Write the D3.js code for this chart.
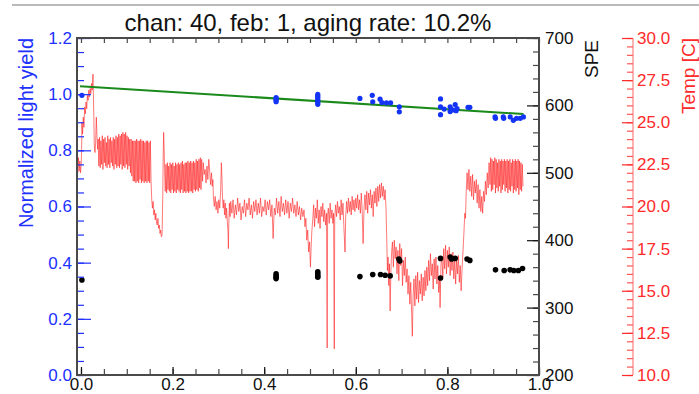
<!DOCTYPE html>
<html><head><meta charset="utf-8">
<script src="https://cdn.jsdelivr.net/npm/d3@7"></script>
<style>body{margin:0;background:#fff;} svg{display:block;font-family:"Liberation Sans",Arial,Helvetica,sans-serif;}</style>
</head><body><svg id="c" width="699" height="394"></svg>
<script>
// ---------- data ----------
const titleText = "chan: 40, feb: 1, aging rate: 10.2%";
const xTicks = [0, 0.2, 0.4, 0.6, 0.8, 1.0];
const lyTicks = [0, 0.2, 0.4, 0.6, 0.8, 1.0, 1.2];
const speTicks = [200, 300, 400, 500, 600, 700];
const tempTicks = [10, 12.5, 15, 17.5, 20, 22.5, 25, 27.5, 30];

// normalized light yield points (blue)
const lyX = [0.002, 0.426, 0.426, 0.426, 0.426, 0.517, 0.517, 0.517, 0.517, 0.517, 0.517, 0.517,
  0.609, 0.636, 0.637, 0.653, 0.657, 0.667, 0.676, 0.695, 0.695,
  0.785, 0.785, 0.785, 0.793, 0.806, 0.806, 0.811, 0.817, 0.819, 0.821, 0.845, 0.849,
  0.904, 0.905, 0.922, 0.923, 0.937, 0.944, 0.951, 0.959, 0.966];
const lyY = [0.996, 0.988, 0.983, 0.978, 0.973, 0.999, 0.993, 0.987, 0.981, 0.975, 0.969, 0.964,
  0.985, 0.996, 0.973, 0.982, 0.970, 0.969, 0.969, 0.955, 0.937,
  0.983, 0.955, 0.927, 0.947, 0.955, 0.938, 0.944, 0.963, 0.941, 0.949, 0.953, 0.953,
  0.919, 0.914, 0.919, 0.914, 0.919, 0.907, 0.914, 0.914, 0.919];

// SPE points (black)
const speX = [0.002, 0.426, 0.426, 0.426, 0.426, 0.517, 0.517, 0.517, 0.517,
  0.609, 0.637, 0.654, 0.664, 0.675, 0.694, 0.696,
  0.785, 0.785, 0.806, 0.809, 0.817, 0.843, 0.849,
  0.905, 0.924, 0.937, 0.945, 0.955, 0.964];
const speY = [341, 350, 347, 345, 343, 353, 350, 347, 345,
  346, 349, 349, 348, 347, 372, 369,
  373, 344, 375, 372, 373, 372, 370,
  356, 355, 356, 355, 355, 358];

// linear fit (green)
const fitX = [-0.002, 0.966];
const fitIntercept = 1.028;
const fitSlope = -0.102;

// temperature trace (red): [time, temp C]
const tempData = [
[-0.0087,22.6],[-0.007,22.0],[-0.0055,22.9],[-0.004,22.1],[-0.0025,22.7],[-0.001,22.0],[0.0005,22.5],[0.0015,23.6],
[0.002,25.0],[0.0035,24.3],[0.005,25.3],[0.0065,24.7],[0.008,25.9],[0.0095,25.5],[0.011,26.2],[0.0125,25.8],
[0.014,26.6],[0.0155,26.3],[0.017,26.9],[0.0185,26.5],[0.020,27.0],[0.0215,26.7],[0.023,27.3],[0.0245,26.9],
[0.0262,27.86],[0.0272,26.5],[0.0282,25.2],[0.029,23.6],[0.0305,23.2],[0.032,23.8],[0.0335,25.3],[0.035,24.2],
[0.0362,23.4],[0.0375,24.0],[0.039,22.4],
[0.0405,24.1],[0.042,22.3],[0.0435,23.9],[0.045,22.5],[0.0465,24.2],[0.048,22.2],[0.0495,24.0],[0.051,22.6],
[0.0525,24.1],[0.054,22.4],[0.0555,23.8],[0.057,22.3],[0.0585,24.2],[0.060,22.5],[0.0615,24.0],[0.063,22.3],
[0.0645,24.1],[0.066,22.6],[0.0675,23.9],[0.069,22.4],[0.0705,24.1],[0.072,22.2],[0.0735,24.0],[0.075,22.5],
[0.0765,24.2],[0.078,22.3],[0.0795,24.1],[0.081,22.4],[0.0825,24.3],[0.084,22.3],[0.0855,24.2],[0.087,22.5],
[0.0885,24.3],[0.090,22.2],[0.0915,24.4],[0.093,22.4],[0.0945,24.3],[0.096,22.3],[0.0975,24.4],[0.099,22.5],
[0.1005,24.2],[0.102,22.2],[0.1035,24.1],[0.105,22.4],[0.1065,24.0],[0.108,22.0],[0.1095,24.0],[0.111,21.8],
[0.1125,23.9],[0.114,21.5],[0.1155,23.9],[0.117,21.5],[0.1185,23.9],[0.120,21.4],[0.1215,24.0],[0.123,21.5],
[0.1245,23.9],[0.126,21.4],[0.1275,23.9],[0.129,21.6],[0.1305,24.0],[0.132,21.4],[0.1335,23.9],[0.135,21.5],
[0.1365,23.9],[0.138,21.4],[0.1395,23.8],[0.141,21.5],[0.1425,23.9],[0.144,21.4],[0.1455,23.9],[0.147,21.5],
[0.1485,23.8],[0.150,21.4],[0.1515,23.9],[0.153,21.5],
[0.1545,20.4],[0.156,19.9],[0.1575,20.3],[0.159,19.5],[0.1605,19.8],[0.162,19.2],[0.1635,19.6],[0.165,19.0],
[0.1665,18.9],[0.168,19.3],[0.1695,18.7],[0.171,18.9],[0.1725,18.4],[0.174,18.6],[0.1755,18.2],[0.177,18.3],
[0.1785,20.5],[0.1795,23.0],[0.1805,24.4],[0.1815,23.5],[0.1825,22.2],
[0.184,20.9],[0.1855,22.5],[0.187,20.8],[0.1885,22.6],[0.190,21.0],[0.1915,22.4],[0.193,20.9],[0.1945,22.6],
[0.196,20.8],[0.1975,22.5],[0.199,21.0],[0.2005,22.6],[0.202,20.8],[0.2035,22.4],[0.205,20.9],[0.2065,22.6],
[0.208,20.8],[0.2095,22.5],[0.211,21.0],[0.2125,22.6],[0.214,20.9],[0.2155,22.5],[0.217,20.8],[0.2185,22.6],
[0.220,21.0],[0.2215,22.7],[0.223,20.8],[0.2245,22.5],[0.226,20.9],[0.2275,22.6],[0.229,20.8],[0.2305,22.6],
[0.232,20.9],[0.2335,22.7],[0.235,20.8],[0.2365,22.6],[0.238,20.9],[0.2395,22.7],[0.241,20.9],[0.2425,22.6],
[0.244,20.8],[0.2455,22.7],[0.247,21.0],[0.2485,22.6],[0.250,20.9],[0.2515,22.8],[0.253,21.0],[0.2545,22.7],
[0.256,20.9],[0.2575,22.8],[0.259,21.1],[0.2605,22.9],[0.262,21.0],[0.2635,22.8],
[0.2655,21.5],[0.267,22.6],[0.269,21.9],[0.271,22.2],[0.273,21.4],[0.275,22.4],[0.277,21.6],[0.279,22.8],
[0.281,22.1],[0.283,21.3],[0.285,22.0],[0.2865,21.2],[0.288,21.6],
[0.289,20.6],[0.291,20.0],[0.293,20.6],[0.295,19.8],[0.297,20.3],[0.299,19.6],[0.301,20.4],[0.303,19.9],
[0.305,21.0],[0.3065,22.6],[0.308,21.5],[0.309,20.5],[0.3105,19.9],
[0.312,20.4],[0.3135,19.5],[0.315,20.2],[0.3165,19.3],[0.318,19.9],[0.3195,19.1],[0.321,18.5],[0.3218,17.5],
[0.3228,19.0],[0.324,20.2],[0.3255,19.4],
[0.327,20.3],[0.3295,19.6],[0.332,20.4],[0.3345,19.3],[0.337,20.1],[0.3395,19.5],[0.342,20.5],[0.3445,19.7],
[0.347,20.2],[0.3495,19.2],[0.352,20.0],[0.3545,19.6],[0.357,20.4],[0.3595,19.4],[0.362,20.2],[0.3645,19.8],
[0.367,20.5],[0.3695,19.5],[0.372,20.1],[0.3745,19.3],[0.377,20.3],[0.3795,19.7],[0.382,20.4],[0.3845,19.5],
[0.387,20.2],[0.3895,19.6],[0.392,20.5],[0.3945,19.4],[0.397,20.0],[0.3995,19.7],[0.402,20.4],[0.4045,19.5],
[0.407,20.3],[0.4095,19.8],[0.412,20.4],[0.4145,19.4],[0.417,20.1],[0.4195,18.1],[0.422,19.9],[0.4245,19.5],
[0.427,20.5],[0.4295,19.6],[0.432,20.3],[0.4345,19.4],[0.437,20.6],[0.4395,19.7],[0.442,20.2],[0.4445,19.5],
[0.447,20.4],[0.4495,19.6],[0.452,20.3],[0.4545,19.3],[0.457,20.2],[0.4595,19.7],[0.462,20.5],[0.4645,19.6],
[0.467,20.1],[0.4695,19.4],[0.472,20.3],[0.4745,19.5],[0.477,20.0],[0.4795,19.2],[0.482,19.9],[0.4845,19.4],
[0.487,19.8],
[0.489,18.8],[0.491,19.3],[0.493,18.0],[0.495,18.6],[0.497,17.3],[0.499,17.9],[0.501,16.4],[0.5025,17.6],[0.504,18.5],
[0.506,19.2],[0.508,20.1],[0.510,18.8],[0.512,19.9],[0.514,19.3],[0.516,20.4],[0.518,19.0],[0.520,19.8],
[0.522,18.7],[0.524,20.0],[0.526,19.4],[0.528,20.2],[0.530,19.1],[0.532,19.8],[0.534,18.9],[0.536,19.6],
[0.5375,11.6],[0.5385,19.5],[0.540,19.9],[0.542,19.0],[0.544,20.2],[0.546,19.3],[0.548,19.8],[0.550,19.0],
[0.5515,19.6],[0.553,11.55],[0.554,19.3],
[0.556,20.1],[0.558,19.4],[0.560,20.3],[0.562,19.6],[0.564,20.0],[0.566,19.2],[0.568,20.4],[0.570,19.5],
[0.572,20.2],[0.574,18.8],[0.5765,17.3],[0.578,19.4],[0.580,20.3],[0.582,19.6],[0.584,20.5],[0.586,19.7],
[0.588,20.3],[0.590,19.5],[0.592,20.6],[0.594,19.8],[0.596,20.4],[0.598,19.7],[0.600,20.5],[0.602,19.9],
[0.604,20.7],[0.606,19.8],[0.608,20.4],[0.610,19.6],
[0.612,20.8],[0.614,19.7],[0.616,17.8],[0.618,19.9],[0.620,20.7],[0.622,19.8],[0.624,20.9],[0.626,19.6],
[0.628,20.8],[0.630,20.1],[0.632,21.0],[0.634,19.9],[0.636,20.7],[0.638,19.4],[0.640,20.9],[0.642,20.2],
[0.644,21.1],[0.646,20.0],[0.648,21.2],[0.650,20.3],[0.652,21.3],[0.654,20.5],[0.656,21.4],[0.658,20.6],
[0.660,21.2],[0.662,20.4],[0.664,21.0],[0.666,19.9],
[0.668,17.5],[0.669,16.2],[0.6705,17.0],[0.672,15.3],[0.6735,16.6],[0.675,13.8],[0.6765,16.0],[0.678,17.2],
[0.680,17.9],[0.682,16.4],[0.684,18.0],[0.686,16.9],[0.688,17.6],[0.690,16.0],[0.692,17.4],[0.694,15.6],
[0.696,17.8],[0.698,16.5],[0.700,17.5],[0.702,15.3],[0.704,16.8],[0.706,15.9],[0.708,17.0],[0.710,15.5],[0.712,16.3],
[0.714,14.8],[0.716,15.9],[0.718,14.2],[0.720,15.5],[0.722,13.6],[0.7235,12.3],[0.725,14.6],[0.727,15.7],
[0.729,14.1],[0.731,15.9],[0.733,14.5],[0.735,16.1],[0.737,14.3],[0.739,15.6],[0.741,14.8],[0.743,16.0],
[0.745,14.4],[0.747,15.8],[0.749,14.7],[0.751,16.2],[0.753,15.0],[0.755,16.4],
[0.757,15.3],[0.759,16.8],[0.761,15.6],[0.763,17.2],[0.765,15.9],[0.767,16.6],[0.769,15.1],[0.771,16.9],
[0.773,15.7],[0.775,17.0],[0.777,15.4],[0.779,16.5],[0.781,14.9],[0.783,15.8],[0.784,14.0],[0.786,16.6],
[0.788,17.0],[0.790,15.8],[0.792,17.5],[0.794,16.3],[0.796,17.7],[0.798,16.0],[0.800,17.4],[0.802,16.4],
[0.804,17.6],[0.806,15.9],[0.808,17.2],[0.810,16.2],[0.812,17.3],[0.814,15.7],[0.816,16.9],[0.818,15.4],
[0.820,16.8],[0.822,16.0],[0.824,17.1],[0.826,15.5],[0.828,16.5],[0.830,15.0],[0.832,16.3],
[0.834,17.3],[0.836,18.4],[0.838,19.6],[0.8395,19.3],[0.841,20.8],[0.843,22.0],
[0.845,21.0],[0.847,22.2],[0.849,20.9],[0.851,21.8],[0.853,20.6],[0.855,21.9],[0.857,20.4],[0.859,21.5],
[0.861,20.8],[0.863,21.6],[0.865,20.2],[0.867,21.3],[0.869,19.9],[0.871,21.0],[0.873,19.7],[0.875,20.6],[0.877,19.6],
[0.879,20.9],[0.881,20.3],[0.883,21.5],[0.885,20.7],[0.887,22.0],[0.889,21.1],[0.891,22.6],[0.893,21.3],
[0.8945,22.9],[0.896,20.9],[0.8975,22.8],[0.899,21.0],[0.9005,22.7],[0.902,21.3],[0.9035,22.9],[0.905,20.8],
[0.9065,22.8],[0.908,21.1],[0.9095,22.6],[0.911,20.9],[0.9125,22.8],[0.914,21.2],[0.9155,22.7],[0.917,20.8],
[0.9185,22.8],[0.920,21.0],[0.9215,22.7],[0.923,21.3],[0.9245,22.8],[0.926,20.9],[0.9275,22.7],[0.929,21.1],
[0.9305,22.8],[0.932,20.8],[0.9335,22.7],[0.935,21.0],[0.9365,22.8],[0.938,20.9],[0.9395,22.6],[0.941,21.2],
[0.9425,22.8],[0.944,20.8],[0.9455,22.7],[0.947,21.0],[0.9485,22.8],[0.950,20.9],[0.9515,22.7],[0.953,21.1],
[0.9545,22.8],[0.956,20.7],[0.9575,22.7],[0.959,21.0],[0.9605,22.6],[0.962,20.9],[0.9635,22.5],[0.965,21.2]
];

// ---------- drawing ----------
const svg = d3.select("#c");
const L = 77, R = 539, T = 38, B = 375;
const BLUE = "#2030ff", FRAME = "#4a4a4a";

const x = d3.scaleLinear().domain([-0.0087, 1]).range([L, R]);
const yLY = d3.scaleLinear().domain([0, 1.2]).range([B, T]);
const ySPE = d3.scaleLinear().domain([200, 700]).range([B, T]);
const yT = d3.scaleLinear().domain([10, 30]).range([B, T]);

// top grey rule
svg.append("line").attr("x1", 12).attr("x2", 699).attr("y1", 5).attr("y2", 5)
  .attr("stroke", "#777").attr("stroke-width", 1.2);

// temperature trace
svg.append("path").datum(tempData)
  .attr("d", d3.line().x(d => x(d[0])).y(d => yT(d[1])))
  .attr("fill", "none").attr("stroke", "#ff2020").attr("stroke-opacity", 0.6)
  .attr("stroke-width", 1).attr("stroke-linejoin", "round");

// fit line
svg.append("line")
  .attr("x1", x(fitX[0])).attr("y1", yLY(fitIntercept + fitSlope * fitX[0]))
  .attr("x2", x(fitX[1])).attr("y2", yLY(fitIntercept + fitSlope * fitX[1]))
  .attr("stroke", "#1a8a1a").attr("stroke-width", 2);

// blue points
svg.append("g").selectAll("circle").data(lyX).join("circle")
  .attr("cx", d => x(d)).attr("cy", (d, i) => yLY(lyY[i])).attr("r", 2.6)
  .attr("fill", "#1434f5");

// black points
svg.append("g").selectAll("circle").data(speX).join("circle")
  .attr("cx", d => x(d)).attr("cy", (d, i) => ySPE(speY[i])).attr("r", 2.8)
  .attr("fill", "#000");

function styleAxis(g, color, fs) {
  g.select(".domain").remove();
  g.selectAll("line").attr("stroke", color).attr("stroke-width", 1.2);
  g.selectAll("text").attr("fill", color).attr("font-size", fs)
    .attr("font-family", '"Liberation Sans",Arial,Helvetica,sans-serif');
}

// left axis (light yield)
const gL = svg.append("g").attr("transform", `translate(${L},0)`);
gL.call(d3.axisLeft(yLY).tickValues(yLY.ticks(24)).tickSize(-7).tickFormat(""));
gL.call(g => styleAxis(g, BLUE, 16));
const gL2 = svg.append("g").attr("transform", `translate(${L},0)`);
gL2.call(d3.axisLeft(yLY).tickValues(lyTicks).tickSize(-14).tickPadding(5).tickFormat(d3.format(".1f")));
gL2.call(g => styleAxis(g, BLUE, 17));

// bottom axis
const gB = svg.append("g").attr("transform", `translate(0,${B})`);
gB.call(d3.axisBottom(x).tickValues(d3.range(0, 1.0001, 0.05)).tickSize(-6).tickFormat(""));
gB.call(g => styleAxis(g, FRAME, 16));
const gB2 = svg.append("g").attr("transform", `translate(0,${B})`);
gB2.call(d3.axisBottom(x).tickValues(xTicks).tickSize(-8).tickPadding(3).tickFormat(d3.format(".1f")));
gB2.call(g => styleAxis(g, "#111", 17));

// top axis
const gTop = svg.append("g").attr("transform", `translate(0,${T})`);
gTop.call(d3.axisTop(x).tickValues(d3.range(0, 1.0001, 0.05)).tickSize(-5).tickFormat(""));
gTop.call(g => styleAxis(g, FRAME, 16));

// right SPE axis
const gS = svg.append("g").attr("transform", `translate(${R},0)`);
gS.call(d3.axisRight(ySPE).tickValues(ySPE.ticks(25)).tickSize(-6).tickFormat(""));
gS.call(g => styleAxis(g, FRAME, 16));
const gS2 = svg.append("g").attr("transform", `translate(${R},0)`);
gS2.call(d3.axisRight(ySPE).tickValues(speTicks).tickSize(-12).tickPadding(6).tickFormat(d3.format("d")));
gS2.call(g => styleAxis(g, "#111", 17));

// temperature axis
const TX = 633;
const gT = svg.append("g").attr("transform", `translate(${TX},0)`);
gT.call(d3.axisRight(yT).tickValues(yT.ticks(40)).tickSize(-6).tickFormat(""));
gT.call(g => styleAxis(g, "#ff5555", 16));
const gT2 = svg.append("g").attr("transform", `translate(${TX},0)`);
gT2.call(d3.axisRight(yT).tickValues(tempTicks).tickSize(-11).tickPadding(4).tickFormat(d3.format(".1f")));
gT2.call(g => styleAxis(g, "#ff2a2a", 17));
svg.append("line").attr("x1", TX).attr("x2", TX).attr("y1", T).attr("y2", B)
  .attr("stroke", "#ff6666").attr("stroke-width", 1);

// frame
svg.append("rect").attr("x", L).attr("y", T).attr("width", R - L).attr("height", B - T)
  .attr("fill", "none").attr("stroke", FRAME).attr("stroke-width", 2);

// titles
svg.append("text").attr("x", 308).attr("y", 31).attr("text-anchor", "middle")
  .attr("font-size", 24).attr("fill", "#111").text(titleText);
svg.append("text").attr("transform", `translate(33,38) rotate(-90)`).attr("text-anchor", "end")
  .attr("font-size", 20).attr("fill", BLUE).text("Normalized light yield");
svg.append("text").attr("transform", `translate(598,40) rotate(-90)`).attr("text-anchor", "end")
  .attr("font-size", 19).attr("fill", "#111").text("SPE");
svg.append("text").attr("transform", `translate(695,38) rotate(-90)`).attr("text-anchor", "end")
  .attr("font-size", 19).attr("fill", "#ff2a2a").text("Temp [C]");
</script></body></html>
